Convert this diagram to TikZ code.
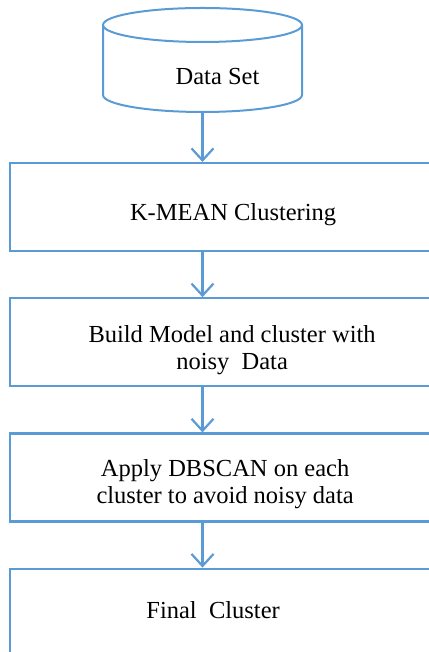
\documentclass[tikz,border=0pt]{standalone}
\usepackage{fontspec}
\setmainfont{Liberation Serif}
\usetikzlibrary{positioning,arrows.meta}

\definecolor{flowblue}{RGB}{91,155,213}

\begin{document}
\begin{tikzpicture}[%
    x=1pt,
    y=1pt,
    line width=2.2pt,
    node distance=45pt,
    font=\fontsize{24.5}{27}\selectfont,
    every label/.style={align=center},
    flow/.style={%
      draw=flowblue,
      -{Straight Barb[length=12pt,width=22pt]}
    },
    dbase/.style={%
      rectangle,
      outer sep=0pt,
      minimum width=199pt,
      minimum height=104pt
    },
    stage/.style={%
      rectangle,
      minimum width=430pt,
      minimum height=88pt,
      draw=flowblue
    }
  ]
    \useasboundingbox (0,0) rectangle (428,652);

    \node[dbase,label={[xshift=15pt,yshift=-17pt]center:Data Set}] (data) at (202.5,592) {};
    \node[stage,anchor=north west,label={[xshift=8pt,yshift=-8pt]center:K-MEAN Clustering}] (kmean) at (9,490) {};
    \node[stage,label={[xshift=7pt,yshift=-8pt]center:Build Model and cluster with\\noisy\ \ Data}] (build) [below=of kmean] {};
    \node[stage,label={[xshift=0pt,yshift=-7pt]center:Apply DBSCAN on each\\cluster to avoid noisy data}] (dbscan) [below=of build] {};
    \node[stage,label={[xshift=-12pt,yshift=3pt]center:Final\ \ Cluster}] (final) [below=of dbscan] {};

    % drum outline round the data set
    \draw[flowblue,line width=2pt] ([yshift=-17pt]data.north) ellipse [x radius=99.5pt, y radius=17pt];
    \draw[flowblue,line width=2pt] ([yshift=-17pt]data.north west) -- ([yshift=17pt]data.south west)
      arc [start angle=180, end angle=360, x radius=99.5pt, y radius=17pt] -- ([yshift=-17pt]data.north east);

    \draw[flow] (data.south) -- (data.south |- kmean.north);
    \draw[flow] (kmean.south -| data) -- (build.north -| data);
    \draw[flow] (build.south -| data) -- (dbscan.north -| data);
    \draw[flow] (dbscan.south -| data) -- (final.north -| data);
\end{tikzpicture}
\end{document}
